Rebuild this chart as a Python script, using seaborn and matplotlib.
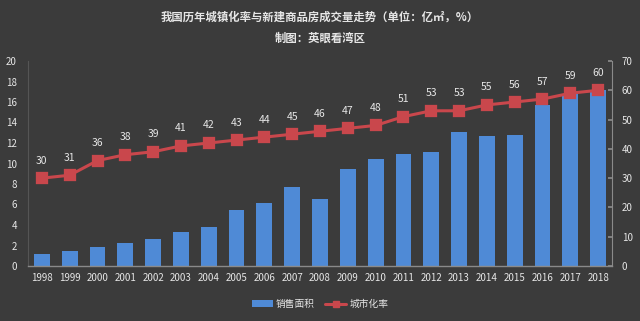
import numpy as np
import pandas as pd
import matplotlib
matplotlib.use("Agg")
import matplotlib.pyplot as plt
import seaborn as sns
from matplotlib.patches import Patch
from matplotlib.lines import Line2D

years = [str(y) for y in range(1998, 2019)]
sales_area = [1.15, 1.42, 1.82, 2.2, 2.6, 3.35, 3.84, 5.5, 6.18, 7.75, 6.55,
              9.43, 10.48, 10.9, 11.1, 13.05, 12.72, 12.82, 15.7, 16.8, 17.17]
urban_rate = [30, 31, 36, 38, 39, 41, 42, 43, 44, 45, 46,
              47, 48, 51, 53, 53, 55, 56, 57, 59, 60]

title1 = "我国历年城镇化率与新建商品房成交量走势（单位：亿㎡，%）"
title2 = "制图：英眼看湾区"
bar_label = "销售面积"
line_label = "城市化率"

BG = "#3b3b3b"
BLUE = "#4f8ad6"
RED = "#c9474c"
TXT = "#e6e6e6"
AX = "#8a8a8a"

sns.set_theme(style="dark")
plt.rcParams['font.family'] = ['Noto Sans CJK SC', 'DejaVu Sans']

df = pd.DataFrame({"year": years, "area": sales_area, "rate": urban_rate})

fig = plt.figure(figsize=(6.4, 3.21), dpi=100, facecolor=BG)
ax = fig.add_axes([28/640, 1-266/321, (612-28)/640, (266-61)/321])
ax.set_facecolor(BG)

sns.barplot(data=df, x="year", y="area", color=BLUE, saturation=1,
            width=0.57, ax=ax, edgecolor="none", linewidth=0)
ax.set_ylim(0, 20)
ax.set_yticks(np.arange(0, 21, 2))
ax.set_xlabel("")
ax.set_ylabel("")

ax2 = ax.twinx()
sns.pointplot(data=df, x="year", y="rate", color=RED, markers="s",
              linestyles="-", ax=ax2, markersize=6.5, linewidth=2.2)
ax2.set_ylim(0, 70)
ax2.set_yticks(np.arange(0, 71, 10))
ax2.set_ylabel("")
ax2.set_xlim(-0.5, len(years) - 0.5)
ax.set_xlim(-0.5, len(years) - 0.5)

for i, v in enumerate(urban_rate):
    ax2.annotate(f"{v}", (i, v), xytext=(0, 9), textcoords="offset points",
                 ha="center", va="bottom", fontsize=7.5, color=TXT)

for a in (ax, ax2):
    a.set_facecolor("none")
    a.grid(False)
    for s in a.spines.values():
        s.set_visible(False)

ax.spines["left"].set_visible(True)
ax.spines["left"].set_color("#555555")
ax.spines["left"].set_linewidth(0.8)
ax.spines["bottom"].set_visible(True)
ax.spines["bottom"].set_color(AX)
ax.spines["bottom"].set_linewidth(1.0)
ax2.spines["right"].set_visible(True)
ax2.spines["right"].set_color(AX)
ax2.spines["right"].set_linewidth(0.8)

ax.tick_params(axis="y", length=0, pad=8, labelsize=7, labelcolor=TXT)
ax.tick_params(axis="x", length=0, pad=5, labelsize=7, labelcolor=TXT)
ax2.tick_params(axis="y", direction="in", length=3, color=AX, pad=7,
                labelsize=7, labelcolor=TXT)
ax.set_zorder(1)
ax2.set_zorder(2)

fig.text(0.5, 1-17/321, title1, ha="center", va="center", fontsize=8.2,
         fontweight="bold", color=TXT)
fig.text(0.5, 1-38/321, title2, ha="center", va="center", fontsize=8.2,
         fontweight="bold", color=TXT)

handles = [Patch(facecolor=BLUE, edgecolor="none"),
           Line2D([0], [0], color=RED, lw=2.2, marker="s", markersize=4)]
leg = fig.legend(handles, [bar_label, line_label], loc="center",
                 bbox_to_anchor=(0.5, 1-304/321), ncol=2, frameon=False,
                 fontsize=7, handlelength=2.2, handleheight=0.6,
                 columnspacing=1.0, handletextpad=0.3)
for t in leg.get_texts():
    t.set_color(TXT)

fig.savefig("out.png", dpi=100, facecolor=BG)
